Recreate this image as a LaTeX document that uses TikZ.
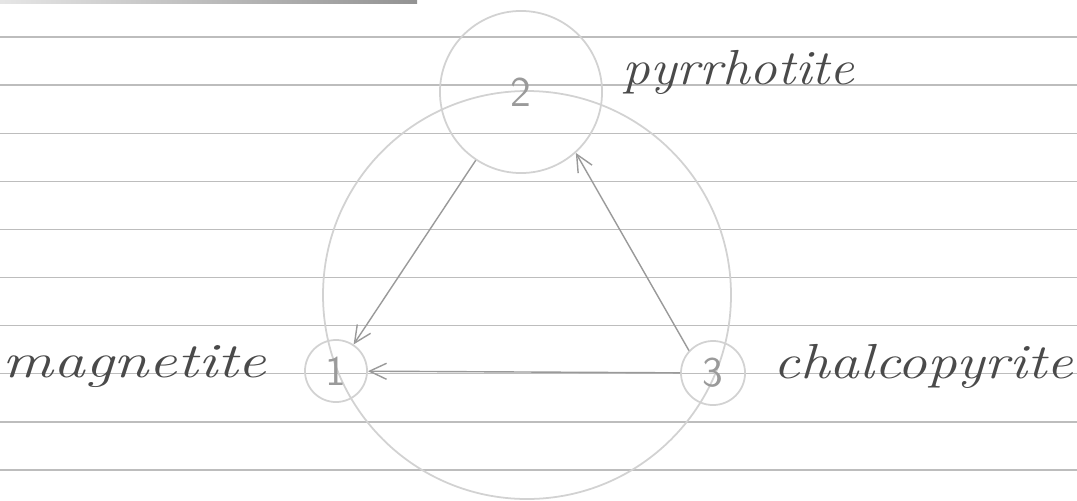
\documentclass[tikz,border=0pt]{standalone}
\usepackage{tikz}
\usetikzlibrary{arrows.meta,positioning}
\definecolor{Pencil}{HTML}{4A4A4A}
\definecolor{Faint}{HTML}{D2D2D2}
\definecolor{Ruling}{HTML}{BDBDBD}
\definecolor{Stroke}{HTML}{9A9A9A}

\begin{document}
\begin{tikzpicture}[x=0.01cm,y=-0.01cm,
    phase/.style={circle,draw=Faint,line width=0.5pt,inner sep=0pt,text=Stroke,
      font=\fontsize{12}{14}\selectfont\sffamily},
    mineral/.style={text=Pencil,inner sep=0pt,font=\fontsize{14}{17}\selectfont\itshape},
    flow/.style={draw=Stroke,line width=0.4pt,-{Straight Barb[length=1.7mm,width=1.6mm]}}]
  \useasboundingbox[fill=white] (0,0) rectangle (1077,500);
  \shade[left color=gray!20,right color=gray!85] (0,0) rectangle (417,3.5);
  \foreach \k in {0,...,9}
    \draw[Ruling,line width=0.4pt] (0,37+48.1*\k) -- (1077,37+48.1*\k);
  \draw[Faint,line width=0.5pt] (527,295) circle[radius=204];
  \node[phase,minimum size=1.62cm] (pyrr) at (521,92) {2};
  \node[phase,minimum size=0.62cm] (magn) at (336,371) {1};
  \node[phase,minimum size=0.64cm] (chal) at (713,373) {3};
  \node[mineral,anchor=base west] (pyrrlabel) at (622,84) {\scalebox{1.12}[1]{pyrrhotite}};
  \node[mineral,anchor=base east] (magnlabel) at (267,377) {\scalebox{1.29}[1]{magnetite}};
  \node[mineral,anchor=base west] (challabel) at (773,378) {\scalebox{1.2}[1]{chalcopyrite}};
  \draw[flow] (pyrr) -- (magn);
  \draw[flow] (chal.137) -- (pyrr.-48);
  \draw[flow] (chal) -- (magn);
\end{tikzpicture}
\end{document}
